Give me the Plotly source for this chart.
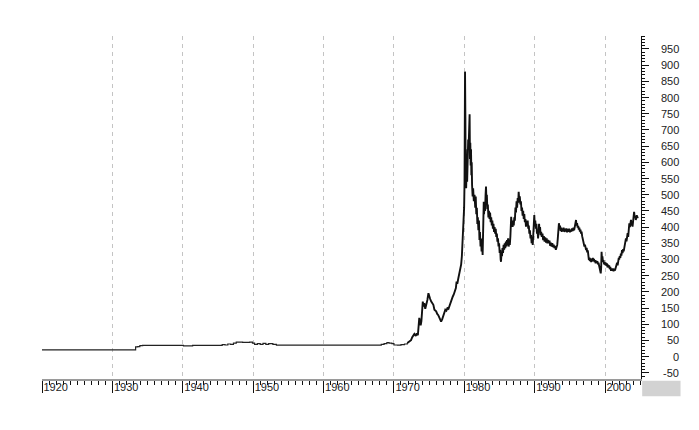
import plotly.graph_objects as go

# gold price history (decimal years, US$)
years_early = [1920.0, 1933.2, 1933.3, 1933.6, 1933.9, 1934.3, 1940.0, 1940.1, 1941.3, 1941.4,
               1945.4, 1945.6, 1946.0, 1946.4, 1946.8, 1947.2, 1947.6, 1948.5, 1949.5, 1949.9,
               1950.2, 1950.6, 1951.0, 1951.4, 1951.8, 1952.2, 1952.8, 1953.3, 1967.9, 1968.2,
               1968.6, 1969.0, 1969.3, 1969.7, 1970.0, 1970.5, 1971.0, 1971.5, 1971.9]
price_early = [20.67, 20.67, 30, 31, 34, 35, 35, 33.5, 33.5, 35,
               35, 37, 36, 39, 38, 42, 45, 44, 45, 42,
               38, 40, 38, 41, 38, 40, 38, 35.5, 35.5, 38,
               40, 43, 42, 40, 36, 35.5, 37, 39, 42]

years_70s = [1971.9, 1972.2, 1972.43, 1972.6, 1972.8, 1972.9, 1973.1, 1973.25, 1973.4, 1973.5, 1973.6,
             1973.7, 1973.8, 1973.9, 1974.0, 1974.1, 1974.2, 1974.3, 1974.45, 1974.6, 1974.75,
             1974.9, 1975.0, 1975.15, 1975.3, 1975.45, 1975.6, 1975.75, 1975.9, 1976.0, 1976.15,
             1976.3, 1976.5, 1976.7, 1976.85, 1977.0, 1977.15, 1977.3, 1977.45, 1977.6, 1977.75,
             1977.9, 1978.05, 1978.2, 1978.35, 1978.5, 1978.65, 1978.8, 1978.9, 1979.0, 1979.15,
             1979.3, 1979.45, 1979.55, 1979.65, 1979.75, 1979.82, 1979.9, 1979.97]
price_70s = [42, 47, 51, 60, 66, 70, 64, 72, 66, 90, 120,
             105, 97, 110, 130, 170, 155, 165, 148, 160, 175,
             196, 185, 178, 170, 165, 160, 145, 142, 140, 132,
             128, 118, 108, 115, 125, 135, 145, 142, 150, 148,
             158, 170, 178, 185, 192, 200, 212, 232, 225, 242,
             255, 270, 285, 310, 350, 390, 420, 460]

years_80s = [1980.03, 1980.08, 1980.1, 1980.12, 1980.15, 1980.18, 1980.22, 1980.26, 1980.3, 1980.35,
             1980.4, 1980.45, 1980.5, 1980.55, 1980.6, 1980.65, 1980.7, 1980.75, 1980.8, 1980.85,
             1980.9, 1980.95, 1981.0, 1981.05, 1981.1, 1981.18, 1981.25, 1981.35, 1981.45, 1981.55,
             1981.62, 1981.7, 1981.78, 1981.85, 1981.92, 1982.0, 1982.08, 1982.15, 1982.22, 1982.3,
             1982.38, 1982.45, 1982.52, 1982.6, 1982.66, 1982.72, 1982.76, 1982.8, 1982.88, 1982.95,
             1983.02, 1983.08, 1983.14, 1983.2, 1983.27, 1983.34, 1983.42, 1983.5, 1983.58, 1983.66,
             1983.74, 1983.82, 1983.9, 1983.98, 1984.06, 1984.14, 1984.22, 1984.3, 1984.38, 1984.46,
             1984.54, 1984.62, 1984.7, 1984.78, 1984.86, 1984.94, 1985.02, 1985.1, 1985.16, 1985.21,
             1985.28, 1985.35, 1985.42, 1985.5, 1985.58, 1985.66, 1985.74, 1985.82, 1985.9, 1985.98,
             1986.06, 1986.14, 1986.22, 1986.3, 1986.38, 1986.46, 1986.54, 1986.6, 1986.66, 1986.72,
             1986.8, 1986.86, 1986.94, 1987.02, 1987.1, 1987.18, 1987.26, 1987.34, 1987.42, 1987.5,
             1987.58, 1987.66, 1987.72, 1987.8, 1987.88, 1987.96, 1988.04, 1988.12, 1988.2, 1988.28,
             1988.36, 1988.44, 1988.52, 1988.6, 1988.68, 1988.76, 1988.84, 1988.92, 1989.0, 1989.08,
             1989.16, 1989.24, 1989.32, 1989.4, 1989.48, 1989.56, 1989.64, 1989.72, 1989.8, 1989.88,
             1989.94]
price_80s = [540, 700, 880, 660, 740, 600, 640, 520, 560, 610,
             540, 620, 590, 670, 640, 700, 660, 748, 610, 660,
             590, 640, 560, 600, 530, 495, 520, 480, 500, 460,
             494, 440, 460, 410, 430, 390, 420, 360, 385, 340,
             365, 325, 350, 314, 360, 430, 478, 440, 470, 450,
             500, 525, 480, 500, 455, 470, 430, 450, 425, 445,
             415, 430, 405, 420, 395, 410, 385, 400, 380, 395,
             370, 380, 355, 365, 340, 350, 320, 330, 300, 293,
             320, 310, 335, 320, 345, 330, 350, 335, 355, 340,
             360, 345, 365, 340, 355, 345, 370, 395, 432, 410,
             420, 401, 415, 405, 430, 420, 460, 445, 480, 460,
             490, 475, 509, 485, 495, 470, 480, 450, 460, 435,
             450, 425, 440, 415, 425, 401, 420, 410, 420, 395,
             405, 380, 390, 365, 375, 350, 365, 345, 375, 405,
             437]

years_90s = [1990.0, 1990.08, 1990.16, 1990.24, 1990.32, 1990.4, 1990.48, 1990.56, 1990.62, 1990.68,
             1990.76, 1990.84, 1990.92, 1991.0, 1991.1, 1991.2, 1991.3, 1991.4, 1991.5, 1991.6,
             1991.7, 1991.8, 1991.9, 1992.0, 1992.1, 1992.2, 1992.3, 1992.4, 1992.5, 1992.6,
             1992.7, 1992.8, 1992.9, 1993.0, 1993.1, 1993.2, 1993.28, 1993.36, 1993.44, 1993.52,
             1993.6, 1993.68, 1993.76, 1993.84, 1993.92, 1994.0, 1994.1, 1994.2, 1994.3, 1994.4,
             1994.5, 1994.6, 1994.7, 1994.8, 1994.9, 1995.0, 1995.1, 1995.2, 1995.3, 1995.4,
             1995.5, 1995.6, 1995.7, 1995.8, 1995.87, 1995.94, 1996.02, 1996.1, 1996.18, 1996.26,
             1996.34, 1996.42, 1996.5, 1996.58, 1996.66, 1996.74, 1996.82, 1996.9, 1996.98, 1997.06,
             1997.14, 1997.22, 1997.3, 1997.38, 1997.46, 1997.54, 1997.62, 1997.7, 1997.78, 1997.86,
             1997.94, 1998.02, 1998.1, 1998.18, 1998.26, 1998.34, 1998.42, 1998.5, 1998.58, 1998.66,
             1998.74, 1998.82, 1998.9, 1998.98, 1999.06, 1999.14, 1999.22, 1999.3, 1999.38, 1999.44,
             1999.5, 1999.56, 1999.62, 1999.7, 1999.78, 1999.86, 1999.94]
price_90s = [410, 420, 395, 410, 380, 390, 365, 380, 410, 390,
             400, 375, 385, 370, 380, 360, 372, 355, 368, 352,
             365, 350, 360, 350, 358, 342, 352, 340, 350, 338,
             346, 335, 342, 330, 338, 345, 365, 390, 412, 395,
             405, 388, 398, 385, 395, 388, 398, 385, 395, 386,
             396, 384, 394, 386, 395, 384, 392, 386, 396, 388,
             398, 390, 402, 410, 422, 405, 412, 398, 404, 392,
             398, 386, 392, 380, 386, 372, 366, 355, 350, 340,
             346, 335, 329, 336, 322, 328, 312, 298, 306, 295,
             303, 292, 300, 294, 305, 296, 302, 292, 298, 288,
             296, 290, 295, 285, 290, 278, 270, 262, 257, 275,
             324, 300, 310, 292, 298, 285, 292]

years_00s = [2000.02, 2000.1, 2000.18, 2000.26, 2000.34, 2000.42, 2000.5, 2000.58, 2000.66, 2000.74,
             2000.84, 2000.92, 2001.0, 2001.1, 2001.2, 2001.3, 2001.4, 2001.5, 2001.6, 2001.7,
             2001.78, 2001.86, 2001.94, 2002.0, 2002.08, 2002.16, 2002.24, 2002.32, 2002.4, 2002.48,
             2002.56, 2002.64, 2002.72, 2002.8, 2002.88, 2002.96, 2003.04, 2003.12, 2003.2, 2003.28,
             2003.36, 2003.44, 2003.52, 2003.6, 2003.68, 2003.76, 2003.84, 2003.9, 2003.98, 2004.06,
             2004.12, 2004.2, 2004.28, 2004.36, 2004.44, 2004.5, 2004.58, 2004.66]
price_00s = [283, 290, 280, 288, 276, 284, 275, 282, 270, 277,
             265, 272, 265, 272, 264, 271, 266, 275, 280, 290,
             282, 296, 305, 300, 310, 305, 318, 312, 329, 320,
             332, 325, 340, 335, 350, 365, 356, 372, 381, 370,
             395, 412, 400, 415, 422, 405, 415, 401, 420, 430,
             447, 430, 435, 422, 430, 437, 428, 433]

year_ticks = [1920, 1930, 1940, 1950, 1960, 1970, 1980, 1990, 2000]
price_ticks = [-50, 0, 50, 100, 150, 200, 250, 300, 350, 400, 450,
               500, 550, 600, 650, 700, 750, 800, 850, 900, 950]

FONT = "Liberation Sans"

# the fixed-price era is drawn thin, the volatile era thicker (as in the source)
years_late = years_70s + years_80s + years_90s + years_00s
price_late = price_70s + price_80s + price_90s + price_00s

fig = go.Figure()

fig.add_trace(
    go.Scatter(
        x=years_early, y=price_early,
        mode='lines', line=dict(color='#222222', width=1.2, shape='hv'),
        showlegend=False, hoverinfo='skip'
    )
)

fig.add_trace(
    go.Scatter(
        x=years_late, y=price_late,
        mode='lines', line=dict(color='#111111', width=1.9),
        showlegend=False, hoverinfo='skip'
    )
)

# right-aligned price labels next to the right-hand axis
for v in price_ticks:
    fig.add_annotation(
        x=1, xref='paper', y=v, yref='y',
        text=str(v), showarrow=False,
        xanchor='right', yanchor='middle', xshift=40,
        font=dict(family=FONT, size=11, color='#222222')
    )

# stippled grey corner block below the price axis
fig.add_shape(
    type='rect', xref='paper', yref='paper',
    x0=1.002, x1=1.066, y0=-0.005, y1=-0.05,
    fillcolor='#d2d2d2', line=dict(width=0)
)

fig.update_xaxes(
    range=[1920, 2005.1],
    tickmode='array', tickvals=year_ticks,
    ticktext=[str(y) for y in year_ticks],
    ticks='outside', ticklen=12, tickcolor='#111111', tickwidth=1,
    ticklabelposition='outside right', ticklabelstandoff=-3,
    tickfont=dict(family=FONT, size=11, color='#222222'),
    minor=dict(dtick=1, tick0=1920, ticks='outside', ticklen=4,
               tickcolor='#111111', showgrid=False),
    showgrid=True, gridcolor='#c4c4c4', gridwidth=1, griddash='4px,4px',
    showline=True, linecolor='#9a9a9a', linewidth=2,
    zeroline=False, fixedrange=True
)

fig.update_yaxes(
    range=[-69, 990],
    side='right',
    tickmode='linear', tick0=-50, dtick=50,
    ticks='outside', ticklen=7, tickcolor='#111111',
    showticklabels=False,
    minor=dict(dtick=10, tick0=0, ticks='outside', ticklen=3,
               tickcolor='#111111', showgrid=False),
    showgrid=False, zeroline=False,
    showline=True, linecolor='#111111', linewidth=1,
    fixedrange=True
)

# page body adds 8px around the figure, so the figure is kept 8px smaller
fig.update_layout(
    width=691, height=422,
    autosize=False,
    margin=dict(l=34, r=58, t=28, b=51),
    plot_bgcolor='white',
    paper_bgcolor='white',
    showlegend=False
)

fig.write_html("out.html")
